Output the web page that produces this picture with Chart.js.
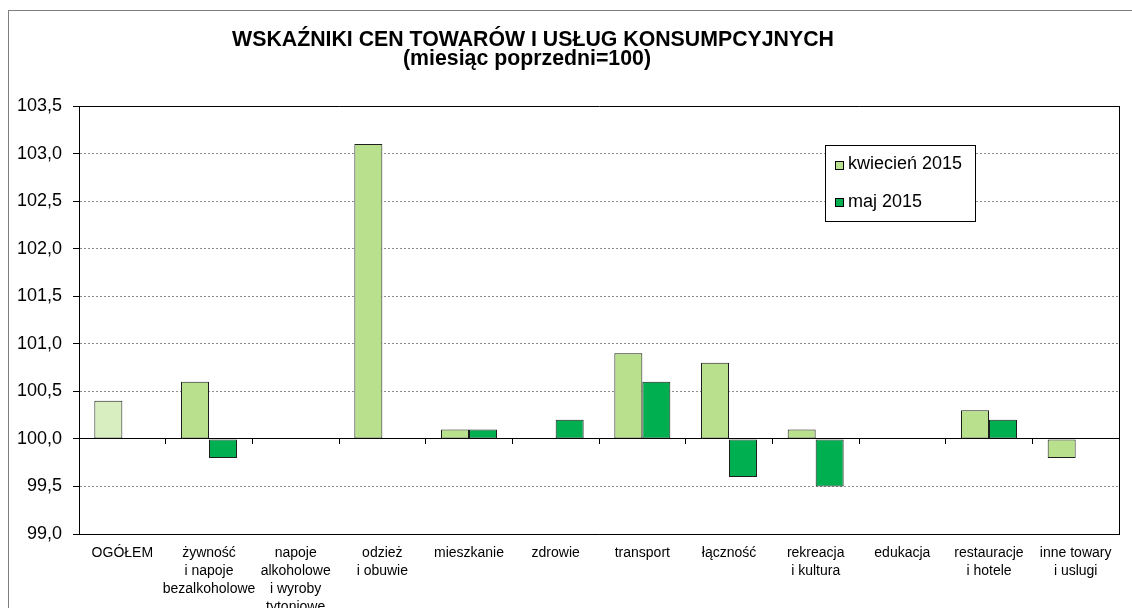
<!DOCTYPE html>
<html>
<head>
<meta charset="utf-8">
<script src="https://cdn.jsdelivr.net/npm/chart.js@4/dist/chart.umd.min.js"></script>
<style>
  html, body { margin: 0; padding: 0; background: #fff; }
  #wrap { width: 1132px; height: 608px; position: relative; }
</style>
</head>
<body>
<div id="wrap"><canvas id="c" width="1132" height="608"></canvas></div>
<script>
// ---- data ----
const titleLines = ['WSKAŹNIKI CEN TOWARÓW I USŁUG KONSUMPCYJNYCH', '(miesiąc poprzedni=100)'];
const categories = [
  ['OGÓŁEM'],
  ['żywność', 'i napoje', 'bezalkoholowe'],
  ['napoje', 'alkoholowe', 'i wyroby', 'tytoniowe'],
  ['odzież', 'i obuwie'],
  ['mieszkanie'],
  ['zdrowie'],
  ['transport'],
  ['łączność'],
  ['rekreacja', 'i kultura'],
  ['edukacja'],
  ['restauracje', 'i hotele'],
  ['inne towary', 'i uslugi']
];
const seriesNames = ['kwiecień 2015', 'maj 2015'];
const april2015 = [100.4, 100.6, 100.0, 103.1, 100.1, 100.0, 100.9, 100.8, 100.1, 100.0, 100.3, 99.8];
const may2015   = [100.0, 99.8, 100.0, 100.0, 100.1, 100.2, 100.6, 99.6, 99.5, 100.0, 100.2, 100.0];
const yMin = 99.0, yMax = 103.5, yStep = 0.5, baseValue = 100;

// ---- styles ----
const FONT = "'Liberation Sans', Arial, sans-serif";
const lightGreen = '#b9e08c';
const lightestGreen = '#d8eec0';
const darkGreen = '#00b050';
const barEdge = '#1e1e1e';
const aprilColors = april2015.map((v, i) => i === 0 ? lightestGreen : lightGreen);
const solidLines = [yMin, baseValue, yMax];

const framePlugin = {
  id: 'frame',
  beforeDraw(chart) {
    const ctx = chart.ctx;
    ctx.save();
    ctx.fillStyle = '#fff';
    ctx.fillRect(0, 0, chart.width, chart.height);
    ctx.strokeStyle = '#7f7f7f';
    ctx.lineWidth = 1;
    ctx.strokeRect(8.5, 10.5, chart.width + 10, chart.height + 10);
    ctx.restore();
  },
  afterDraw(chart) {
    const ctx = chart.ctx, a = chart.chartArea;
    ctx.save();
    ctx.strokeStyle = '#000';
    ctx.lineWidth = 1;
    ctx.beginPath();
    ctx.moveTo(Math.round(a.right) + 0.5, a.top);
    ctx.lineTo(Math.round(a.right) + 0.5, a.bottom);
    ctx.stroke();
    // title
    ctx.fillStyle = '#000';
    ctx.textAlign = 'center';
    ctx.textBaseline = 'alphabetic';
    ctx.font = 'bold 21.3px ' + FONT;
    ctx.fillText(titleLines[0], 533, 46);
    ctx.fillText(titleLines[1], 527, 65);
    // legend
    const lx = 825, ly = 145, lw = 150, lh = 76;
    ctx.fillStyle = '#fff';
    ctx.fillRect(lx, ly, lw, lh);
    ctx.strokeStyle = '#000';
    ctx.strokeRect(lx + 0.5, ly + 0.5, lw, lh);
    const items = [[seriesNames[0], lightGreen, 164.5], [seriesNames[1], darkGreen, 202]];
    ctx.font = '18px ' + FONT;
    ctx.textAlign = 'left';
    ctx.textBaseline = 'middle';
    items.forEach(([label, col, cy]) => {
      ctx.fillStyle = col;
      ctx.fillRect(835, Math.round(cy) - 4, 9, 9);
      ctx.strokeStyle = '#000';
      ctx.strokeRect(835.5, Math.round(cy) - 3.5, 8, 8);
      ctx.fillStyle = '#000';
      ctx.fillText(label, 848, cy);
    });
    ctx.restore();
  }
};

new Chart(document.getElementById('c'), {
  type: 'bar',
  data: {
    labels: categories,
    datasets: [
      { label: seriesNames[0], data: april2015, base: baseValue,
        backgroundColor: aprilColors, borderColor: barEdge, borderWidth: 1, borderSkipped: false },
      { label: seriesNames[1], data: may2015, base: baseValue,
        backgroundColor: darkGreen, borderColor: barEdge, borderWidth: 1, borderSkipped: false }
    ]
  },
  options: {
    responsive: false,
    animation: false,
    devicePixelRatio: 1,
    layout: { padding: { left: 0, top: 106, right: 13, bottom: 0 } },
    datasets: { bar: { categoryPercentage: 0.646, barPercentage: 1.0 } },
    plugins: { legend: { display: false }, title: { display: false }, tooltip: { enabled: false } },
    scales: {
      x: {
        type: 'category',
        offset: true,
        grid: { display: false, offset: true },
        border: { display: true, color: '#000', width: 1 },
        ticks: { color: '#000', font: { family: FONT, size: 14, lineHeight: 1.29 }, padding: 2, maxRotation: 0, autoSkip: false },
        afterFit(s) { s.height = 74; }
      },
      x2: {
        type: 'category',
        axis: 'x',
        position: { y: baseValue },
        offset: true,
        grid: { drawOnChartArea: false, drawTicks: true, tickLength: 5, color: '#000', tickColor: '#000', offset: true },
        border: { display: true, color: '#000', width: 1 },
        ticks: { display: false }
      },
      y: {
        min: yMin, max: yMax,
        beginAtZero: false,
        grid: {
          color: c => (c.tick && solidLines.includes(c.tick.value)) ? '#000' : '#8c8c8c',
          lineWidth: 1,
          tickLength: 6,
          tickColor: '#000',
          tickBorderDash: []
        },
        border: {
          display: true, color: '#000', width: 1,
          dash: c => (c.tick && !solidLines.includes(c.tick.value)) ? [2, 2] : []
        },
        ticks: {
          stepSize: yStep,
          color: '#000',
          padding: 11,
          font: { family: FONT, size: 18 },
          callback: v => Number(v).toFixed(1).replace('.', ',')
        },
        afterFit(s) { s.width = 79; }
      }
    }
  },
  plugins: [framePlugin]
});
</script>
</body>
</html>
